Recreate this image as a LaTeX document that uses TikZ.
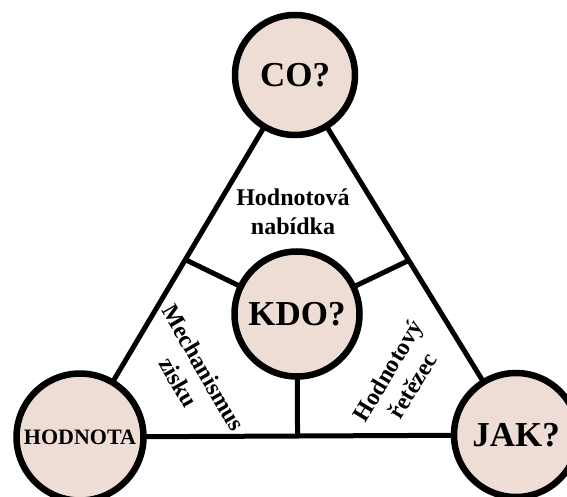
\documentclass[tikz,border=0pt]{standalone}
\usepackage{fontspec}
\setmainfont{Liberation Serif}
\usetikzlibrary{calc,backgrounds}
\definecolor{discfill}{RGB}{238,221,213}
\begin{document}
\begin{tikzpicture}[x=1pt,y=1pt,
  disc/.style={circle,draw=black,line width=6.5pt,fill=discfill,inner sep=0pt,
    font=\bfseries\fontsize{35}{40}\selectfont},
  side/.style={line width=5pt},
  spoke/.style={line width=5pt},
  field/.style={font=\bfseries\fontsize{24}{29}\selectfont,align=center,inner sep=0pt}]
\useasboundingbox (0,0) rectangle (567,496);

% the four discs
\node[disc,minimum size=120pt] (co)  at (295,421) {CO?};
\node[disc,minimum size=125pt] (kdo) at (297,182) {KDO?};
\node[disc,minimum size=127pt,font=\bfseries\fontsize{22}{26}\selectfont] (hod) at (80,59) {HODNOTA};
\node[disc,minimum size=124pt] (jak) at (516,61) {JAK?};

% feet of the three spokes on the triangle sides
\coordinate (lfoot) at ($(co.center)!0.51!(hod.center)$);
\coordinate (rfoot) at ($(co.center)!0.515!(jak.center)$);
\coordinate (bfoot) at ($(hod.center)!(kdo.center)!(jak.center)$);

\begin{scope}[on background layer]
  \draw[side] (co.center) -- (hod.center);
  \draw[side] (co.center) -- (jak.center);
  \draw[side] (hod.center) -- (jak.center);
  \draw[spoke] (kdo.center) -- (lfoot);
  \draw[spoke] (kdo.center) -- (rfoot);
  \draw[spoke] (kdo.center) -- (bfoot);
\end{scope}

% labels of the three fields
\node[field] (offer) at (293,284) {Hodnotová\\nabídka};
\node[field,rotate=-60] (profit) at (191,121) {Mechanismus\\zisku};
\node[field,rotate=59] (chain) at (400,118) {Hodnotový\\řetězec};
\end{tikzpicture}
\end{document}
